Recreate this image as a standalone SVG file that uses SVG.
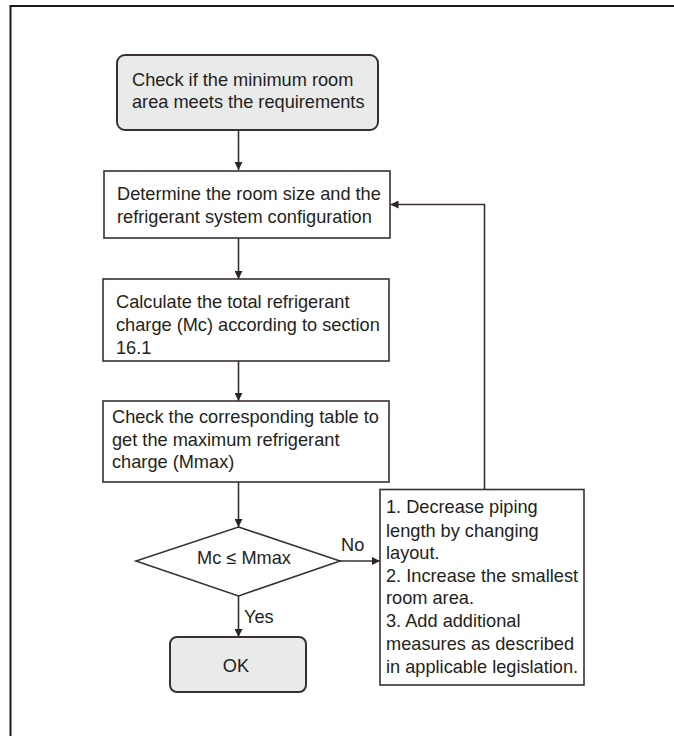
<svg xmlns="http://www.w3.org/2000/svg" width="674" height="736" viewBox="0 0 674 736">
<defs>
<style>
.t{font-family:"Liberation Sans",Arial,sans-serif;font-size:18.2px;fill:#231f20}
.box{fill:#ffffff;stroke:#3a3030;stroke-width:1.6}
.term{fill:#e9eaea;stroke:#3a3030;stroke-width:2}
.ln{fill:none;stroke:#3a3030;stroke-width:1.6}
</style>
<marker id="ah" viewBox="0 0 10 10" refX="10" refY="5" markerWidth="8" markerHeight="8" markerUnits="userSpaceOnUse" orient="auto">
<path d="M0,0 L10,5 L0,10 Z" fill="#2d2424"/>
</marker>
</defs>
<rect width="674" height="736" fill="#ffffff"/>
<path d="M10.5,736 V6 H674" fill="none" stroke="#1a1a1a" stroke-width="2"/>

<g id="connectors">
<line class="ln" x1="238.5" y1="130" x2="238.5" y2="170" marker-end="url(#ah)"/>
<line class="ln" x1="238.5" y1="238" x2="238.5" y2="279" marker-end="url(#ah)"/>
<line class="ln" x1="238.5" y1="361" x2="238.5" y2="401" marker-end="url(#ah)"/>
<line class="ln" x1="238.5" y1="482" x2="238.5" y2="527" marker-end="url(#ah)"/>
<line class="ln" x1="340" y1="561" x2="380" y2="561" marker-end="url(#ah)"/>
<line class="ln" x1="238.5" y1="596" x2="238.5" y2="637" marker-end="url(#ah)"/>
<polyline class="ln" points="484.5,489 484.5,204.5 390.5,204.5" marker-end="url(#ah)"/>
<text class="t" x="341" y="551">No</text>
<text class="t" x="244" y="623">Yes</text>
</g>

<g id="start">
<rect class="term" x="117" y="55" width="261" height="75" rx="8"/>
<text class="t" x="132" y="86">Check if the minimum room</text>
<text class="t" x="132" y="108">area meets the requirements</text>
</g>

<g id="determine">
<rect class="box" x="104" y="171" width="286" height="67"/>
<text class="t" x="117" y="200">Determine the room size and the</text>
<text class="t" x="117" y="222.5">refrigerant system configuration</text>
</g>

<g id="calculate">
<rect class="box" x="103" y="279" width="286" height="82"/>
<text class="t" x="116" y="308">Calculate the total refrigerant</text>
<text class="t" x="116" y="331">charge (Mc) according to section</text>
<text class="t" x="116" y="354">16.1</text>
</g>

<g id="checktable">
<rect class="box" x="103" y="401" width="286" height="81"/>
<text class="t" x="112" y="423">Check the corresponding table to</text>
<text class="t" x="112" y="446">get the maximum refrigerant</text>
<text class="t" x="112" y="468">charge (Mmax)</text>
</g>

<g id="decision">
<polygon class="box" points="238.5,527 340,561 238.5,596 136,561"/>
<text class="t" x="244" y="564" text-anchor="middle">Mc ≤ Mmax</text>
</g>

<g id="ok">
<rect class="term" x="170" y="637" width="136" height="55" rx="7"/>
<text class="t" x="236" y="672" text-anchor="middle">OK</text>
</g>

<g id="measures">
<rect class="box" x="380" y="489.5" width="204" height="195.5"/>
<text class="t" x="386" y="513.3">1. Decrease piping</text>
<text class="t" x="386" y="536.5">length by changing</text>
<text class="t" x="386" y="559">layout.</text>
<text class="t" x="386" y="581.7">2. Increase the smallest</text>
<text class="t" x="386" y="604.3">room area.</text>
<text class="t" x="386" y="627.3">3. Add additional</text>
<text class="t" x="386" y="650">measures as described</text>
<text class="t" x="386" y="673.3">in applicable legislation.</text>
</g>
</svg>
